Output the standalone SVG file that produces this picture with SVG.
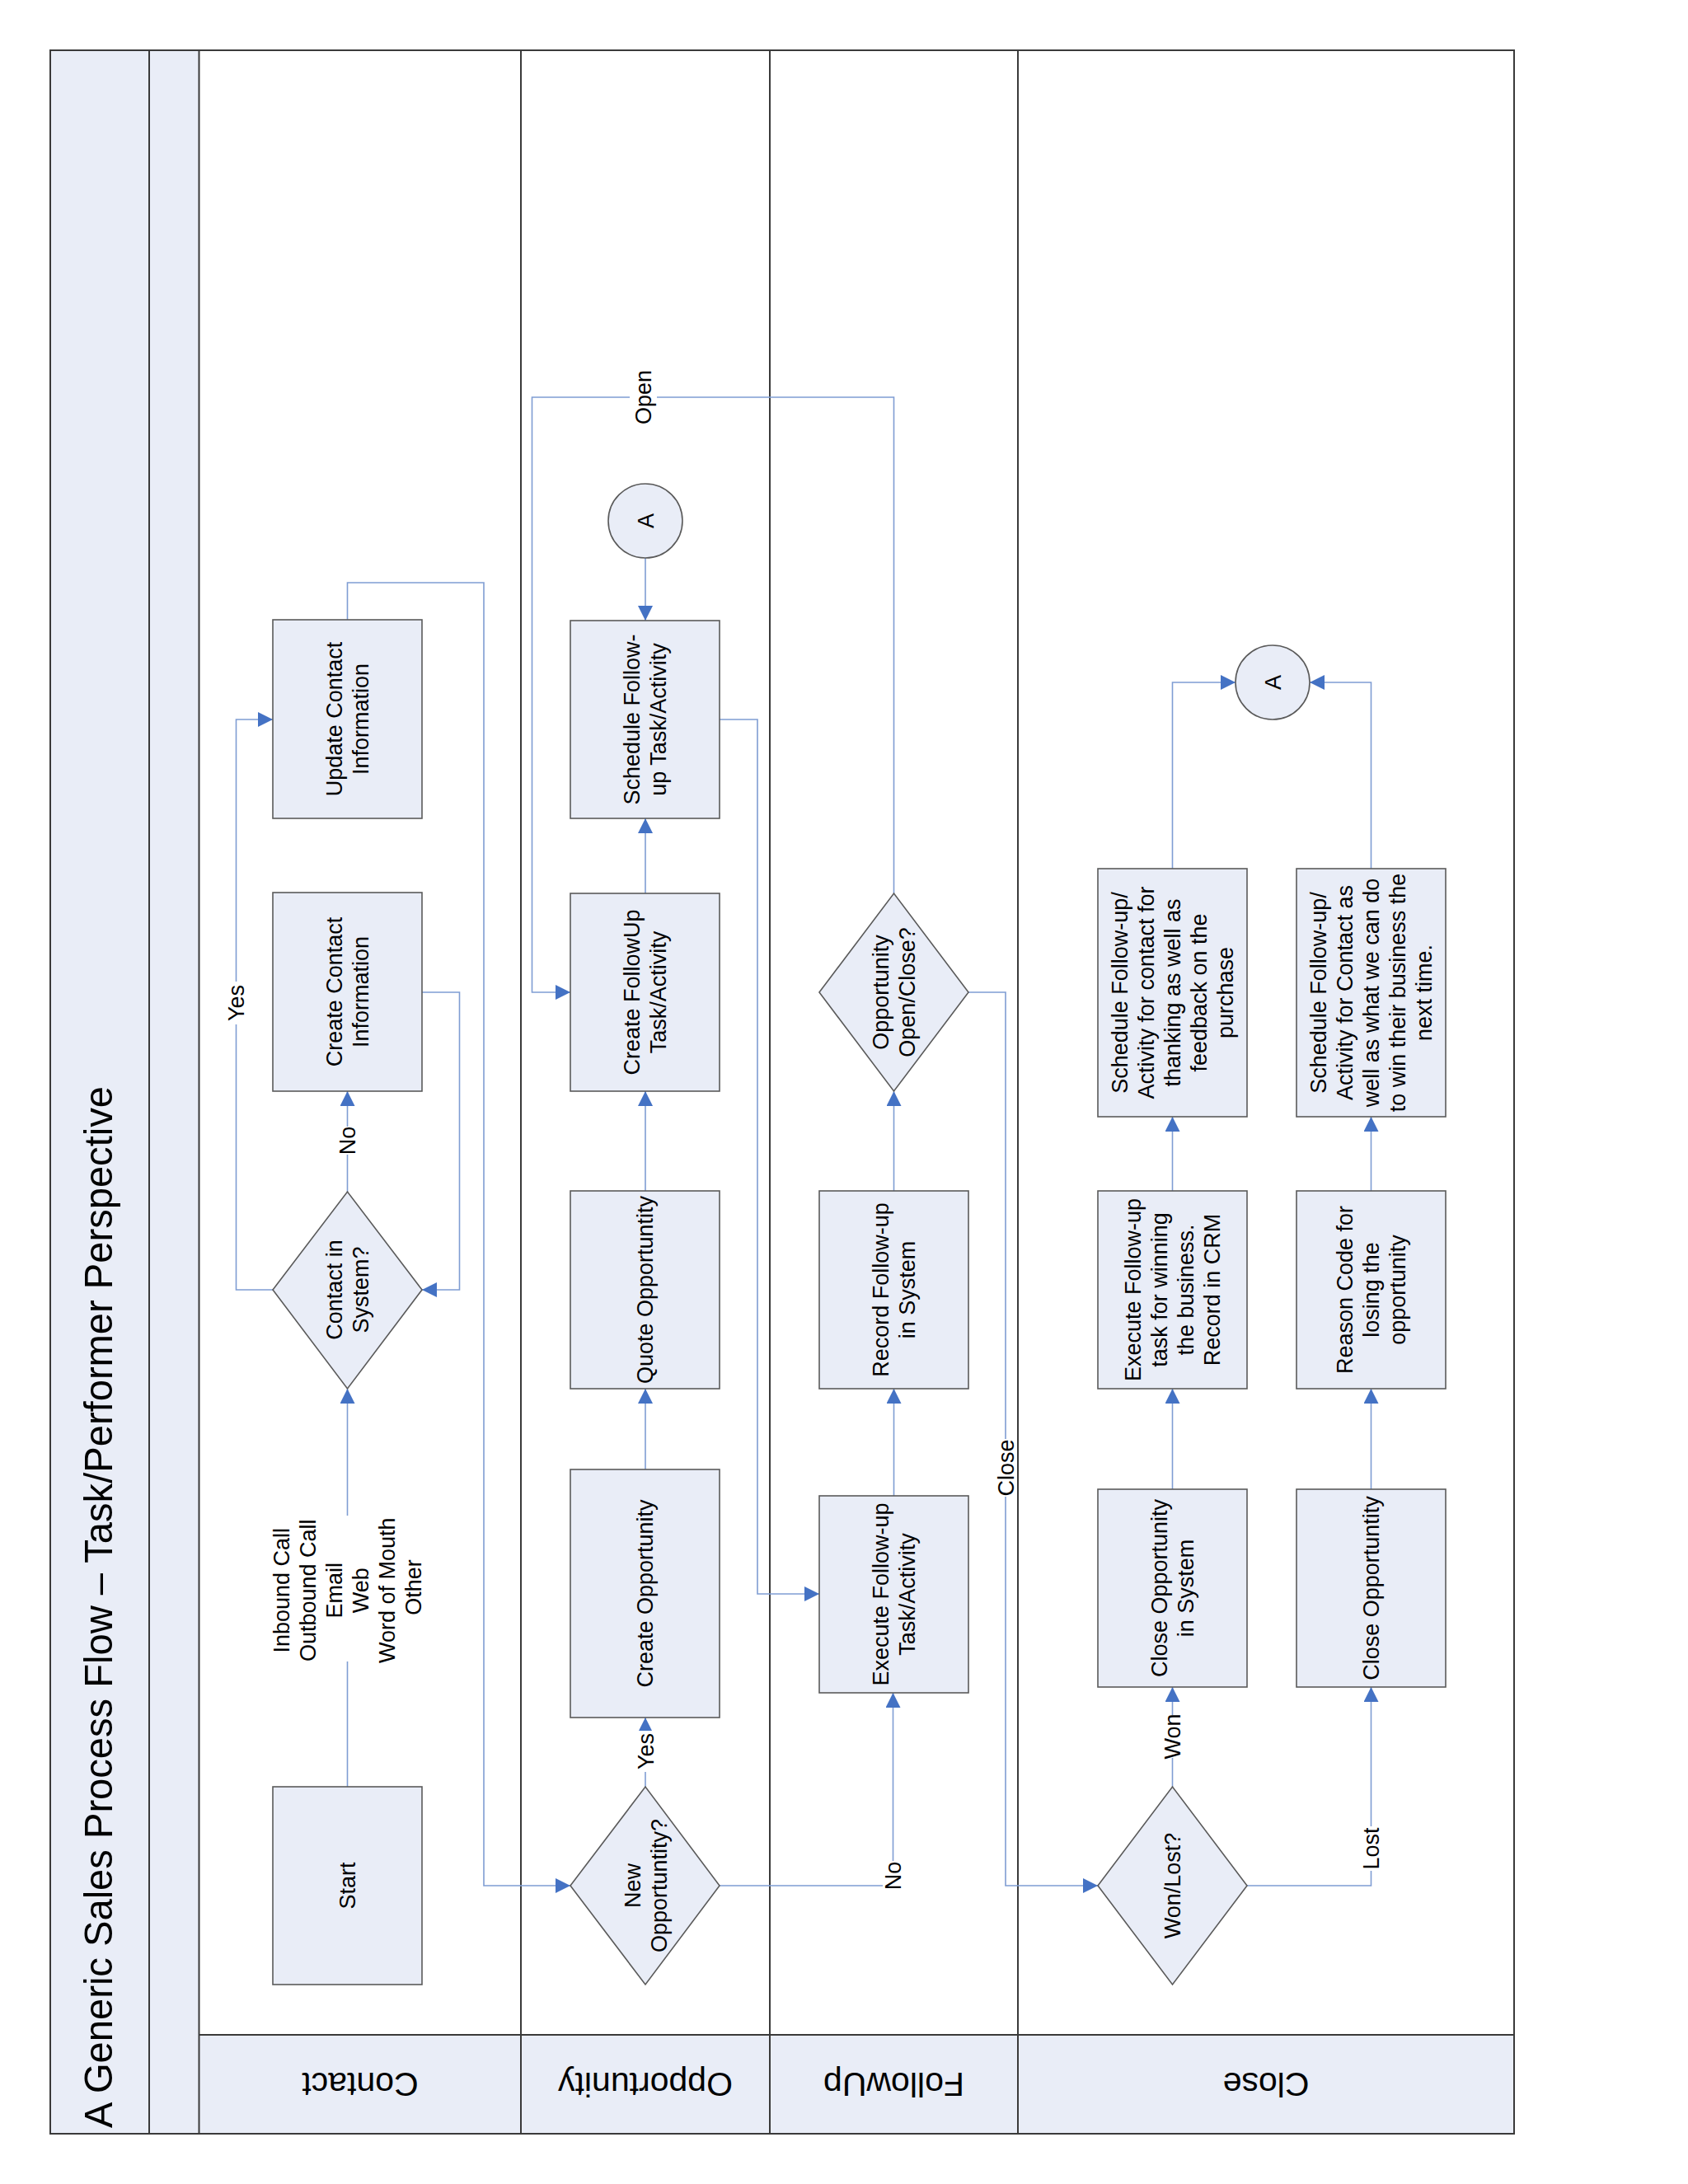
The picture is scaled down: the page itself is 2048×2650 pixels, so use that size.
<svg xmlns="http://www.w3.org/2000/svg" width="2048" height="2650" viewBox="0 0 2048 2650">
<defs>
<style>
.band{fill:#E9EDF7;stroke:none}
.lane{stroke:#3a3a3a;stroke-width:2;fill:none}
.node{fill:#E9EDF7;stroke:#5a5a5a;stroke-width:1.6}
.conn{fill:none;stroke:#7F9DD3;stroke-width:1.6}
.t{font-family:"Liberation Sans",Arial,sans-serif;font-size:27px;fill:#000;text-anchor:middle}
.hdr{font-family:"Liberation Sans",Arial,sans-serif;font-size:41px;fill:#000;text-anchor:middle}
.title{font-family:"Liberation Sans",Arial,sans-serif;font-size:49px;fill:#000}
.bg{fill:#fff;stroke:none}
</style>
<marker id="arr" markerUnits="userSpaceOnUse" markerWidth="18" markerHeight="18" viewBox="0 0 18 18" refX="18" refY="9" orient="auto">
<path d="M0,0 L18,9 L0,18 z" fill="#4472C4"/>
</marker>
</defs>
<rect x="0" y="0" width="2048" height="2650" fill="#fff"/>

<g id="pool">
<rect class="band" x="61" y="61" width="181" height="2528"/>
<rect class="band" x="242" y="2469" width="1595" height="120"/>
<rect class="lane" x="61" y="61" width="1776" height="2528"/>
<line class="lane" x1="181" y1="61" x2="181" y2="2589"/>
<line class="lane" x1="241.5" y1="61" x2="241.5" y2="2589"/>
<line class="lane" x1="632" y1="61" x2="632" y2="2589"/>
<line class="lane" x1="934" y1="61" x2="934" y2="2589"/>
<line class="lane" x1="1235" y1="61" x2="1235" y2="2589"/>
<line class="lane" x1="241.5" y1="2469" x2="1837" y2="2469"/>
<text class="title" transform="translate(136,2582) rotate(-90)" textLength="1264" lengthAdjust="spacingAndGlyphs">A Generic Sales Process Flow – Task/Performer Perspective</text>
<text class="hdr" transform="translate(437,2529) rotate(180)" dy="14">Contact</text>
<text class="hdr" transform="translate(783,2529) rotate(180)" dy="14">Opportunity</text>
<text class="hdr" transform="translate(1084.5,2529) rotate(180)" dy="14">FollowUp</text>
<text class="hdr" transform="translate(1536,2529) rotate(180)" dy="14">Close</text>
</g>

<g id="connectors">
<path class="conn" d="M421.5,2168 V2016"/>
<path class="conn" d="M421.5,1839 V1685" marker-end="url(#arr)"/>
<path class="conn" d="M331,1565 H286.5 V873 H331" marker-end="url(#arr)"/>
<path class="conn" d="M421.5,1446 V1324" marker-end="url(#arr)"/>
<path class="conn" d="M512,1204 H557.5 V1565 H512" marker-end="url(#arr)"/>
<path class="conn" d="M421.5,752 V707 H587 V2288 H692" marker-end="url(#arr)"/>
<path class="conn" d="M783,2168 V2084" marker-end="url(#arr)"/>
<path class="conn" d="M783,1783 V1685" marker-end="url(#arr)"/>
<path class="conn" d="M783,1445 V1324" marker-end="url(#arr)"/>
<path class="conn" d="M783,1084 V993" marker-end="url(#arr)"/>
<path class="conn" d="M783,677 V753" marker-end="url(#arr)"/>
<path class="conn" d="M873,873 H919 V1934 H994" marker-end="url(#arr)"/>
<path class="conn" d="M873,2288 H1083.5 V2054" marker-end="url(#arr)"/>
<path class="conn" d="M1084.5,1815 V1685" marker-end="url(#arr)"/>
<path class="conn" d="M1084.5,1445 V1324" marker-end="url(#arr)"/>
<path class="conn" d="M1084.5,1084 V482 H645.5 V1204 H692" marker-end="url(#arr)"/>
<path class="conn" d="M1175,1204 H1220 V2288 H1332" marker-end="url(#arr)"/>
<path class="conn" d="M1422.5,2168 V2047" marker-end="url(#arr)"/>
<path class="conn" d="M1422.5,1807 V1685" marker-end="url(#arr)"/>
<path class="conn" d="M1422.5,1445 V1355" marker-end="url(#arr)"/>
<path class="conn" d="M1422.5,1054 V828 H1499" marker-end="url(#arr)"/>
<path class="conn" d="M1513,2288 H1663.5 V2047" marker-end="url(#arr)"/>
<path class="conn" d="M1663.5,1807 V1685" marker-end="url(#arr)"/>
<path class="conn" d="M1663.5,1445 V1355" marker-end="url(#arr)"/>
<path class="conn" d="M1663.5,1054 V828 H1589" marker-end="url(#arr)"/>
<rect class="bg" x="274" y="1191" width="25" height="52"/>
<rect class="bg" x="409" y="1367" width="25" height="34"/>
<rect class="bg" x="771" y="2100" width="25" height="50"/>
<rect class="bg" x="1071" y="2258" width="25" height="36"/>
<rect class="bg" x="764" y="449" width="33" height="66"/>
<rect class="bg" x="1208" y="1746" width="25" height="70"/>
<rect class="bg" x="1410" y="2081" width="25" height="52"/>
<rect class="bg" x="1651" y="2216" width="25" height="54"/>
<text class="t" transform="translate(286.5,1217) rotate(-90)" dy="9.5">Yes</text>
<text class="t" transform="translate(421.5,1384) rotate(-90)" dy="9.5">No</text>
<text class="t" transform="translate(783,2125) rotate(-90)" dy="9.5">Yes</text>
<text class="t" transform="translate(1083.5,2276) rotate(-90)" dy="9.5">No</text>
<text class="t" transform="translate(780.5,482) rotate(-90)" dy="9.5">Open</text>
<text class="t" transform="translate(1220,1781) rotate(-90)" dy="9.5">Close</text>
<text class="t" transform="translate(1422.5,2107) rotate(-90)" dy="9.5">Won</text>
<text class="t" transform="translate(1663.5,2243) rotate(-90)" dy="9.5">Lost</text>
<text class="t" transform="translate(421.5,1926) rotate(-90)">
<tspan x="0" y="-70.5">Inbound Call</tspan>
<tspan x="0" y="-38.5">Outbound Call</tspan>
<tspan x="0" y="-6.5">Email</tspan>
<tspan x="0" y="25.5">Web</tspan>
<tspan x="0" y="57.5">Word of Mouth</tspan>
<tspan x="0" y="89.5">Other</tspan>
</text>
</g>

<g id="start">
<rect class="node" x="331" y="2168" width="181" height="240"/>
<text class="t" transform="translate(421.5,2288) rotate(-90)" dy="9.5">Start</text>
</g>
<g id="contact-in-system">
<polygon class="node" points="331,1565 421.5,1446 512,1565 421.5,1685"/>
<text class="t" transform="translate(421.5,1565) rotate(-90)"><tspan x="0" y="-6.5">Contact in</tspan><tspan x="0" y="25.5">System?</tspan></text>
</g>
<g id="create-contact">
<rect class="node" x="331" y="1083" width="181" height="241"/>
<text class="t" transform="translate(421.5,1203.5) rotate(-90)"><tspan x="0" y="-6.5">Create Contact</tspan><tspan x="0" y="25.5">Information</tspan></text>
</g>
<g id="update-contact">
<rect class="node" x="331" y="752" width="181" height="241"/>
<text class="t" transform="translate(421.5,872.5) rotate(-90)"><tspan x="0" y="-6.5">Update Contact</tspan><tspan x="0" y="25.5">Information</tspan></text>
</g>

<g id="new-opportunity">
<polygon class="node" points="692,2288 783,2168 873,2288 783,2408"/>
<text class="t" transform="translate(783,2288) rotate(-90)"><tspan x="0" y="-6.5">New</tspan><tspan x="0" y="25.5">Opportuntity?</tspan></text>
</g>
<g id="create-opportunity">
<rect class="node" x="692" y="1783" width="181" height="301"/>
<text class="t" transform="translate(782.5,1933.5) rotate(-90)" dy="9.5">Create Opportunity</text>
</g>
<g id="quote-opportunity">
<rect class="node" x="692" y="1445" width="181" height="240"/>
<text class="t" transform="translate(782.5,1565) rotate(-90)" dy="9.5">Quote Opportuntity</text>
</g>
<g id="create-followup">
<rect class="node" x="692" y="1084" width="181" height="240"/>
<text class="t" transform="translate(782.5,1204) rotate(-90)"><tspan x="0" y="-6.5">Create FollowUp</tspan><tspan x="0" y="25.5">Task/Activity</tspan></text>
</g>
<g id="schedule-followup">
<rect class="node" x="692" y="753" width="181" height="240"/>
<text class="t" transform="translate(782.5,873) rotate(-90)"><tspan x="0" y="-6.5">Schedule Follow-</tspan><tspan x="0" y="25.5">up Task/Activity</tspan></text>
</g>
<g id="connector-a-opportunity">
<circle class="node" cx="783" cy="632" r="45"/>
<text class="t" transform="translate(783,632) rotate(-90)" dy="9.5">A</text>
</g>

<g id="execute-followup">
<rect class="node" x="994" y="1815" width="181" height="239"/>
<text class="t" transform="translate(1084.5,1934.5) rotate(-90)"><tspan x="0" y="-6.5">Execute Follow-up</tspan><tspan x="0" y="25.5">Task/Activity</tspan></text>
</g>
<g id="record-followup">
<rect class="node" x="994" y="1445" width="181" height="240"/>
<text class="t" transform="translate(1084.5,1565) rotate(-90)"><tspan x="0" y="-6.5">Record Follow-up</tspan><tspan x="0" y="25.5">in System</tspan></text>
</g>
<g id="open-close">
<polygon class="node" points="994,1204 1084.5,1084 1175,1204 1084.5,1324"/>
<text class="t" transform="translate(1084.5,1204) rotate(-90)"><tspan x="0" y="-6.5">Opportunity</tspan><tspan x="0" y="25.5">Open/Close?</tspan></text>
</g>

<g id="won-lost">
<polygon class="node" points="1332,2288 1422.5,2168 1513,2288 1422.5,2408"/>
<text class="t" transform="translate(1422.5,2288) rotate(-90)" dy="9.5">Won/Lost?</text>
</g>
<g id="close-won">
<rect class="node" x="1332" y="1807" width="181" height="240"/>
<text class="t" transform="translate(1422.5,1927) rotate(-90)"><tspan x="0" y="-6.5">Close Opportunity</tspan><tspan x="0" y="25.5">in System</tspan></text>
</g>
<g id="execute-win">
<rect class="node" x="1332" y="1445" width="181" height="240"/>
<text class="t" transform="translate(1422.5,1565) rotate(-90)"><tspan x="0" y="-38.5">Execute Follow-up</tspan><tspan x="0" y="-6.5">task for winning</tspan><tspan x="0" y="25.5">the business.</tspan><tspan x="0" y="57.5">Record in CRM</tspan></text>
</g>
<g id="schedule-win">
<rect class="node" x="1332" y="1054" width="181" height="301"/>
<text class="t" transform="translate(1422.5,1204.5) rotate(-90)"><tspan x="0" y="-54.5">Schedule Follow-up/</tspan><tspan x="0" y="-22.5">Activity for contact for</tspan><tspan x="0" y="9.5">thanking as well as</tspan><tspan x="0" y="41.5">feedback on the</tspan><tspan x="0" y="73.5">purchase</tspan></text>
</g>
<g id="close-lost">
<rect class="node" x="1573" y="1807" width="181" height="240"/>
<text class="t" transform="translate(1663.5,1927) rotate(-90)" dy="9.5">Close Opportuntity</text>
</g>
<g id="reason-code">
<rect class="node" x="1573" y="1445" width="181" height="240"/>
<text class="t" transform="translate(1663.5,1565) rotate(-90)"><tspan x="0" y="-22.5">Reason Code for</tspan><tspan x="0" y="9.5">losing the</tspan><tspan x="0" y="41.5">opportunity</tspan></text>
</g>
<g id="schedule-lost">
<rect class="node" x="1573" y="1054" width="181" height="301"/>
<text class="t" transform="translate(1663.5,1204.5) rotate(-90)"><tspan x="0" y="-54.5">Schedule Follow-up/</tspan><tspan x="0" y="-22.5">Activity for Contact as</tspan><tspan x="0" y="9.5">well as what we can do</tspan><tspan x="0" y="41.5">to win their business the</tspan><tspan x="0" y="73.5">next time.</tspan></text>
</g>
<g id="connector-a-close">
<circle class="node" cx="1544" cy="828" r="45"/>
<text class="t" transform="translate(1544,828) rotate(-90)" dy="9.5">A</text>
</g>
</svg>
